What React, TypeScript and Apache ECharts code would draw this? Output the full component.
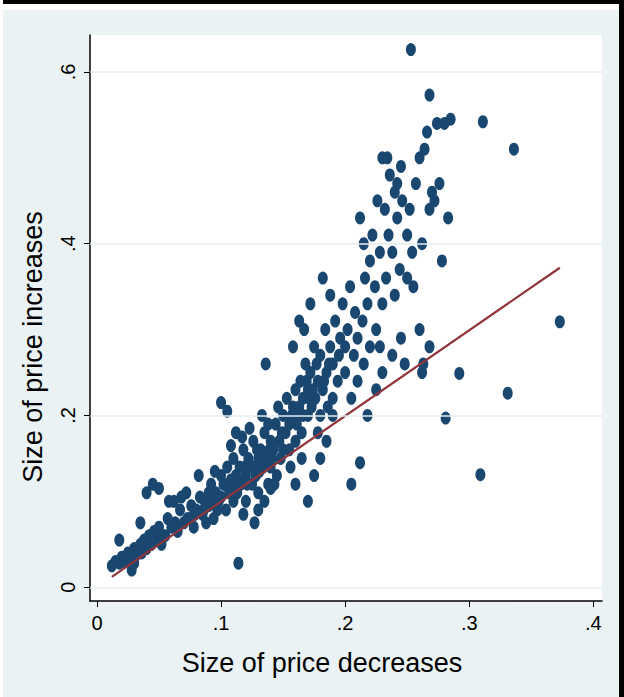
import { useEffect, useRef } from 'react'
import * as echarts from 'echarts'

const xTicks = [0, 0.1, 0.2, 0.3, 0.4]
const yTicks = [0, 0.2, 0.4, 0.6]
const xTitle = 'Size of price decreases'
const yTitle = 'Size of price increases'
const fitLine = [[0.012, 0.012], [0.373, 0.372]]
const points: number[][] = [
  [0.012, 0.025], [0.015, 0.03], [0.018, 0.028], [0.02, 0.035], [0.022, 0.03], [0.025, 0.04], [0.027, 0.033], [0.03, 0.045], [0.03, 0.028], [0.032, 0.038], [0.035, 0.05], [0.036, 0.04], [0.038, 0.055], [0.04, 0.045], [0.042, 0.06], [0.044, 0.05], [0.046, 0.065], [0.048, 0.055], [0.05, 0.07], [0.018, 0.055], [0.028, 0.02], [0.04, 0.11], [0.045, 0.12], [0.05, 0.115], [0.035, 0.075], [0.052, 0.05],
  [0.055, 0.06], [0.057, 0.08], [0.06, 0.07], [0.062, 0.1], [0.065, 0.065], [0.067, 0.09], [0.07, 0.075], [0.072, 0.11], [0.075, 0.08], [0.078, 0.07], [0.08, 0.09], [0.082, 0.13], [0.085, 0.085], [0.087, 0.1], [0.09, 0.095], [0.092, 0.12], [0.094, 0.08], [0.096, 0.11], [0.098, 0.1], [0.1, 0.105], [0.1, 0.13], [0.058, 0.1], [0.068, 0.105], [0.076, 0.095], [0.088, 0.075], [0.095, 0.135], [0.09, 0.11], [0.083, 0.105],
  [0.102, 0.12], [0.104, 0.09], [0.105, 0.14], [0.107, 0.11], [0.108, 0.125], [0.11, 0.1], [0.11, 0.15], [0.112, 0.13], [0.113, 0.11], [0.115, 0.14], [0.116, 0.12], [0.118, 0.16], [0.12, 0.13], [0.12, 0.1], [0.122, 0.15], [0.124, 0.14], [0.125, 0.12], [0.126, 0.17], [0.128, 0.13], [0.13, 0.15], [0.13, 0.11], [0.132, 0.16], [0.134, 0.14], [0.135, 0.18], [0.137, 0.15], [0.138, 0.12], [0.14, 0.17], [0.14, 0.14], [0.142, 0.16], [0.144, 0.19], [0.145, 0.13], [0.147, 0.17], [0.148, 0.15], [0.15, 0.2], [0.15, 0.16], [0.1, 0.215], [0.105, 0.205], [0.112, 0.18], [0.118, 0.085], [0.127, 0.075], [0.13, 0.09], [0.135, 0.1], [0.14, 0.115], [0.143, 0.12], [0.108, 0.165], [0.117, 0.175], [0.123, 0.185], [0.133, 0.2], [0.138, 0.19], [0.146, 0.21], [0.136, 0.26],
  [0.106, 0.115], [0.111, 0.12], [0.114, 0.125], [0.119, 0.14], [0.121, 0.12], [0.127, 0.14], [0.129, 0.16], [0.131, 0.135], [0.136, 0.155], [0.139, 0.16], [0.141, 0.15], [0.149, 0.18], [0.092, 0.1], [0.097, 0.09], [0.086, 0.09], [0.079, 0.085], [0.073, 0.08], [0.063, 0.075], [0.053, 0.06], [0.045, 0.055], [0.024, 0.035], [0.033, 0.045],
  [0.152, 0.18], [0.153, 0.22], [0.155, 0.19], [0.156, 0.14], [0.158, 0.21], [0.16, 0.23], [0.16, 0.17], [0.162, 0.2], [0.164, 0.24], [0.165, 0.18], [0.166, 0.22], [0.168, 0.26], [0.17, 0.2], [0.17, 0.23], [0.172, 0.25], [0.173, 0.21], [0.175, 0.28], [0.176, 0.22], [0.178, 0.24], [0.18, 0.27], [0.18, 0.2], [0.182, 0.23], [0.184, 0.3], [0.185, 0.25], [0.186, 0.21], [0.188, 0.28], [0.19, 0.26], [0.19, 0.22], [0.192, 0.31], [0.194, 0.24], [0.195, 0.27], [0.196, 0.29], [0.198, 0.33], [0.2, 0.25], [0.2, 0.28], [0.158, 0.28], [0.16, 0.12], [0.165, 0.15], [0.17, 0.1], [0.175, 0.13], [0.18, 0.15], [0.185, 0.17], [0.19, 0.2], [0.163, 0.31], [0.172, 0.33], [0.182, 0.36], [0.188, 0.34], [0.167, 0.3], [0.155, 0.16], [0.178, 0.18],
  [0.157, 0.2], [0.163, 0.21], [0.169, 0.24], [0.174, 0.23], [0.177, 0.26], [0.183, 0.24], [0.187, 0.26], [0.171, 0.22], [0.166, 0.2], [0.161, 0.19],
  [0.202, 0.3], [0.204, 0.35], [0.205, 0.22], [0.207, 0.27], [0.208, 0.32], [0.21, 0.24], [0.21, 0.29], [0.212, 0.43], [0.214, 0.31], [0.215, 0.26], [0.216, 0.36], [0.218, 0.33], [0.22, 0.28], [0.22, 0.38], [0.222, 0.41], [0.224, 0.35], [0.225, 0.3], [0.226, 0.45], [0.228, 0.39], [0.23, 0.33], [0.23, 0.5], [0.232, 0.44], [0.233, 0.36], [0.235, 0.41], [0.236, 0.48], [0.238, 0.39], [0.24, 0.46], [0.24, 0.34], [0.242, 0.43], [0.244, 0.37], [0.245, 0.49], [0.246, 0.45], [0.248, 0.26], [0.25, 0.41], [0.25, 0.36], [0.212, 0.145], [0.205, 0.12], [0.218, 0.2], [0.225, 0.23], [0.23, 0.25], [0.238, 0.27], [0.245, 0.29], [0.228, 0.28], [0.215, 0.4], [0.234, 0.5], [0.242, 0.47],
  [0.252, 0.44], [0.254, 0.39], [0.255, 0.35], [0.257, 0.47], [0.26, 0.5], [0.26, 0.3], [0.262, 0.4], [0.263, 0.26], [0.264, 0.51], [0.266, 0.53], [0.268, 0.44], [0.27, 0.46], [0.272, 0.45], [0.274, 0.54], [0.276, 0.47], [0.278, 0.38], [0.28, 0.54], [0.283, 0.43], [0.285, 0.545], [0.262, 0.25], [0.268, 0.28],
  [0.253, 0.626], [0.268, 0.573], [0.311, 0.542], [0.336, 0.51], [0.373, 0.309], [0.331, 0.226], [0.309, 0.131], [0.281, 0.197], [0.292, 0.249], [0.114, 0.028],
]

const fmt = (v: number) => (v === 0 ? '0' : String(Math.round(v * 10) / 10).replace('0.', '.'))

export default function App() {
  const ref = useRef<HTMLDivElement>(null)

  useEffect(() => {
    document.body.style.margin = '0'
    if (!ref.current) return
    const chart = echarts.init(ref.current, null, { renderer: 'svg' })
    const font = 'Arial, "Liberation Sans", sans-serif'

    chart.setOption({
      animation: false,
      backgroundColor: '#eaf2f3',
      graphic: [
        { type: 'rect', shape: { x: 0, y: 0, width: 624, height: 10 }, style: { fill: '#fff' } },
        { type: 'rect', shape: { x: 0, y: 0, width: 624, height: 4 }, style: { fill: '#000' } },
        { type: 'rect', shape: { x: 619, y: 0, width: 5, height: 697 }, style: { fill: '#000' } },
        { type: 'rect', shape: { x: 0, y: 0, width: 3, height: 697 }, style: { fill: '#fff' } },
        { type: 'rect', shape: { x: 90, y: 35, width: 512, height: 566 }, style: { fill: '#fff' }, z: -1 },
        {
          type: 'text', x: 322, y: 663,
          style: { text: xTitle, font: `27px ${font}`, fill: '#000', align: 'center', verticalAlign: 'middle' },
        },
        {
          type: 'text', x: 33, y: 347, rotation: Math.PI / 2,
          style: { text: yTitle, font: `27px ${font}`, fill: '#000', align: 'center', verticalAlign: 'middle' },
        },
      ],
      grid: { left: 90, top: 35, width: 512, height: 566, containLabel: false },
      xAxis: {
        type: 'value', min: -0.0056, max: 0.407,
        axisLine: { show: true, onZero: false, lineStyle: { color: '#000', width: 1.5 } },
        axisTick: { show: true, customValues: xTicks, length: 6, lineStyle: { color: '#000' } },
        axisLabel: { customValues: xTicks, formatter: fmt, fontFamily: font, fontSize: 20, color: '#000', margin: 12 },
        splitLine: { show: false },
      },
      yAxis: {
        type: 'value', min: -0.016, max: 0.643,
        axisLine: { show: true, onZero: false, lineStyle: { color: '#000', width: 1.5 } },
        axisTick: { show: true, customValues: yTicks, length: 6, lineStyle: { color: '#000' } },
        axisLabel: { customValues: yTicks, formatter: fmt, rotate: 90, fontFamily: font, fontSize: 20, color: '#000', margin: 12 },
        splitLine: { show: false },
      },
      series: [
        {
          type: 'line', data: [], silent: true,
          markLine: {
            symbol: 'none', silent: true, label: { show: false },
            lineStyle: { color: '#e4ecee', width: 1.5, type: 'solid' },
            data: yTicks.map((v) => ({ yAxis: v })),
          },
        },
        {
          type: 'scatter', data: points, symbol: 'circle', symbolSize: [10, 13],
          itemStyle: { color: '#1a476f', opacity: 1 },
        },
        {
          type: 'line', data: fitLine, symbol: 'none',
          lineStyle: { color: '#90353b', width: 2.2 },
        },
      ],
    })
    return () => chart.dispose()
  }, [])

  return <div ref={ref} style={{ width: 624, height: 697 }} />
}
